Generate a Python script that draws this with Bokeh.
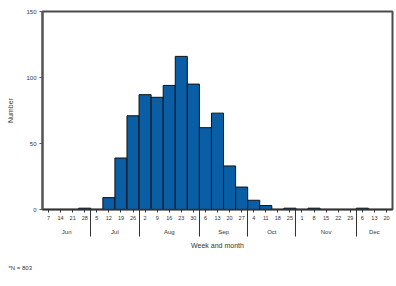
from bokeh.plotting import figure
from bokeh.models import Range1d, FixedTicker, LinearAxis, Title
from bokeh.embed import file_html
from bokeh.resources import INLINE

# Week (day of month, Saturday ending) labels, June - December
week_days = ["7", "14", "21", "28",
             "5", "12", "19", "26",
             "2", "9", "16", "23", "30",
             "6", "13", "20", "27",
             "4", "11", "18", "25",
             "1", "8", "15", "22", "29",
             "6", "13", "20"]
month_names = ["Jun", "Jul", "Aug", "Sep", "Oct", "Nov", "Dec"]
weeks_per_month = [4, 4, 5, 4, 4, 5, 3]
cases = [0, 0, 0, 1,
         0, 9, 39, 71,
         87, 85, 94, 116, 95,
         62, 73, 33, 17,
         7, 3, 0, 1,
         0, 1, 0, 0, 0,
         1, 0, 0]
y_ticks = [0, 50, 100, 150]
footnote = "*N = 803"

FONT = "Liberation Sans"
TXT = "#333333"
n = len(cases)
xs = list(range(n))

# month boundaries and centres derived from week counts
bounds = []
centers = []
start = 0
for k in weeks_per_month:
    centers.append(start + (k - 1) / 2)
    start += k
    bounds.append(start - 0.5)
bounds = bounds[:-1]

p = figure(width=394, height=284, output_backend="svg", toolbar_location=None,
           x_range=Range1d(-0.5, n - 0.5), y_range=Range1d(0, 150),
           min_border_left=42, min_border_right=2, min_border_top=11,
           min_border_bottom=75, x_axis_type=None, y_axis_type=None)
p.background_fill_color = "white"
p.border_fill_color = "white"
p.outline_line_color = "#4a4a4a"
p.outline_line_width = 2
p.xgrid.visible = False
p.ygrid.visible = False

p.vbar(x=xs, top=cases, width=1, fill_color="#0a5ea6", line_color="#111111", line_width=1)

# y axis
yax = LinearAxis(ticker=FixedTicker(ticks=y_ticks))
yax.axis_label = "Number"
yax.axis_label_text_font = FONT
yax.axis_label_text_font_size = "7px"
yax.axis_label_text_font_style = "normal"
yax.axis_label_text_color = TXT
yax.axis_label_standoff = 9
yax.major_label_text_font = FONT
yax.major_label_text_font_size = "6px"
yax.major_label_text_color = TXT
yax.major_label_standoff = 3
yax.major_tick_out = 3
yax.major_tick_in = 0
yax.minor_tick_line_color = None
yax.axis_line_color = "#555555"
yax.axis_line_width = 2
yax.major_tick_line_color = "#555555"
p.add_layout(yax, "left")

# week axis with month separators as long minor ticks
wax = LinearAxis(ticker=FixedTicker(ticks=xs, minor_ticks=bounds))
wax.major_label_overrides = {i: week_days[i] for i in xs}
wax.major_label_text_font = FONT
wax.major_label_text_font_size = "5.5px"
wax.major_label_text_color = TXT
wax.major_label_standoff = -21
wax.major_tick_out = 3
wax.major_tick_in = 0
wax.major_tick_line_color = "#333333"
wax.minor_tick_out = 27
wax.minor_tick_in = 0
wax.minor_tick_line_color = "#333333"
wax.minor_tick_line_width = 1
wax.axis_line_color = "#333333"
wax.axis_line_width = 1.5
p.add_layout(wax, "below")

# month axis
max_ = LinearAxis(ticker=FixedTicker(ticks=centers))
max_.major_label_overrides = {c: m for c, m in zip(centers, month_names)}
max_.major_label_text_font = FONT
max_.major_label_text_font_size = "6px"
max_.major_label_text_color = TXT
max_.major_label_standoff = 6
max_.major_tick_out = 0
max_.major_tick_in = 0
max_.major_tick_line_color = None
max_.minor_tick_line_color = None
max_.axis_line_color = None
max_.axis_label = "Week and month"
max_.axis_label_text_font = FONT
max_.axis_label_text_font_size = "7px"
max_.axis_label_text_font_style = "normal"
max_.axis_label_text_color = TXT
max_.axis_label_standoff = 4
p.add_layout(max_, "below")

p.add_layout(Title(text=footnote, align="left", text_font=FONT, text_font_size="6px",
                   text_font_style="normal", text_color=TXT, standoff=22, offset=-34), "below")

open("out.html", "w").write(file_html(p, INLINE))
